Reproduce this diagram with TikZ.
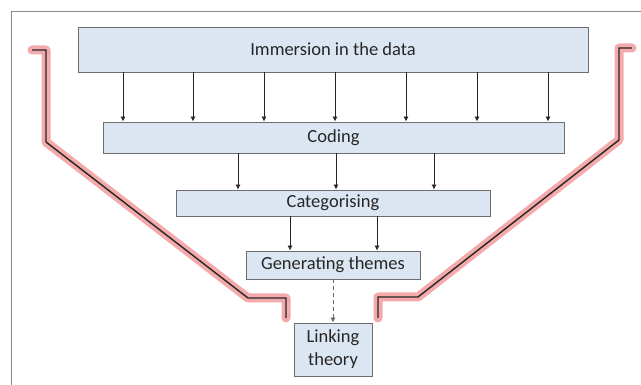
\documentclass[tikz,border=0pt]{standalone}
\usepackage{fontspec}
\setmainfont{Carlito}
\usetikzlibrary{arrows.meta}
\definecolor{boxfill}{HTML}{DCE6F2}
\definecolor{boxline}{HTML}{6E6E6E}
\definecolor{glow}{HTML}{F4A9AB}
\definecolor{framegray}{HTML}{8A8A8A}
\tikzset{
  stage/.style={draw=boxline, fill=boxfill, line width=0.9pt, rectangle,
    inner sep=0pt, align=center, font=\fontsize{18.5}{23}\selectfont, text=black!85},
  flow/.style={draw=black!85, line width=0.8pt, -{Latex[length=5pt,width=5pt]}},
  dflow/.style={flow, dashed, draw=black!60, dash pattern=on 4pt off 3pt},
  glowline/.style={draw=glow, line width=9pt, line cap=round, line join=round},
  wallline/.style={draw=black!85, line width=1.4pt, line join=miter}
}
\begin{document}
\begin{tikzpicture}[x=1pt,y=-1pt]
  \useasboundingbox (0,0) rectangle (641,385);
  \fill[white] (0,0) rectangle (641,385);
  % outer frame (left and top edges)
  \draw[framegray, line width=0.9pt] (11,386) -- (11,11) -- (642,11);

  % stages
  \node[stage, minimum width=510pt, minimum height=45pt] (imm) at (333,49.5) {Immersion in the data};
  \node[stage, minimum width=461pt, minimum height=31pt] (cod) at (333.5,137.5) {Coding};
  \node[stage, minimum width=314pt, minimum height=26pt] (cat) at (333,203) {Categorising};
  \node[stage, minimum width=174pt, minimum height=28pt] (gen) at (333,265) {Generating themes};
  \node[stage, minimum width=78pt, minimum height=53pt] (lnk) at (333,349.5) {Linking\\theory};

  % arrows
  \foreach \x in {123,193,264,335,406,477,548}
    \draw[flow] (imm.south -| \x,0) -- (cod.north -| \x,0);
  \foreach \x in {238,336,434}
    \draw[flow] (cod.south -| \x,0) -- (cat.north -| \x,0);
  \foreach \x in {290,377}
    \draw[flow] (cat.south -| \x,0) -- (gen.north -| \x,0);
  \draw[dflow] (gen.south -| 333,0) -- (lnk.north -| 333,0);

  % funnel walls
  \coordinate (l1) at (32,50);
  \coordinate (l2) at (46,50);
  \coordinate (l3) at (46,142);
  \coordinate (l4) at (248,298);
  \coordinate (l5) at (286,298);
  \coordinate (l6) at (286,318);
  \coordinate (r1) at (632,48);
  \coordinate (r2) at (619,48);
  \coordinate (r3) at (619,140);
  \coordinate (r4) at (418,297);
  \coordinate (r5) at (378,297);
  \coordinate (r6) at (378,318);
  \draw[glowline] (l1) -- (l2) -- (l3) -- (l4) -- (l5) -- (l6);
  \draw[glowline] (r1) -- (r2) -- (r3) -- (r4) -- (r5) -- (r6);
  \draw[wallline] (l1) -- (l2) -- (l3) -- (l4) -- (l5) -- (l6);
  \draw[wallline] (r1) -- (r2) -- (r3) -- (r4) -- (r5) -- (r6);
\end{tikzpicture}
\end{document}
